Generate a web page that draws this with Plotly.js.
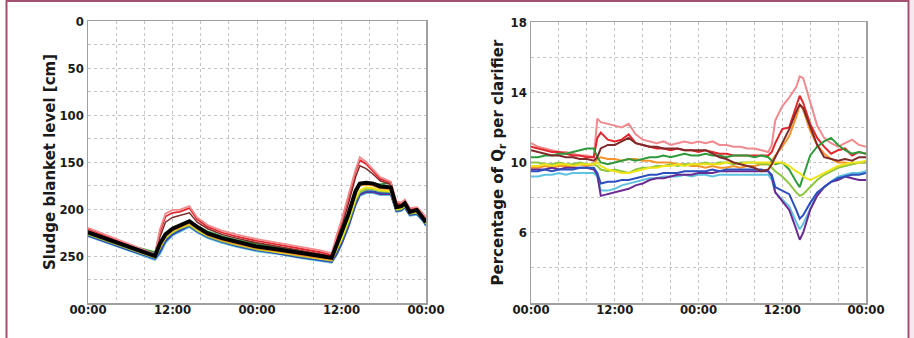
<!DOCTYPE html>
<html>
<head>
<meta charset="utf-8">
<script src="https://cdn.plot.ly/plotly-3.0.1.min.js"></script>
<style>html,body{margin:0;padding:0;background:#fff;}#chart{width:914px;height:338px;}</style>
</head>
<body>
<div id="chart"></div>
<script>
// ---------- Shared x-axis ticks (hours over two days) ----------
const hourTicks = [0, 4, 8, 12, 16, 20, 24, 28, 32, 36, 40, 44, 48];
const hourTickText = ['00:00', '', '', '12:00', '', '', '00:00', '', '', '12:00', '', '', '00:00'];

// ---------- Left chart: sludge blanket level [cm] ----------
const sbTicks = [0, 25, 50, 75, 100, 125, 150, 175, 200, 225, 250, 275, 300];
const sbTickText = ['0', '', '50', '', '100', '', '150', '', '200', '', '250', '', ''];
const sbTime = [0, 3, 6, 9.5, 10.2, 11, 12, 13, 14.4, 15.5, 17, 19, 21, 24, 27, 30, 33, 34.6, 35.3, 36, 37, 38, 38.6, 39.5, 40.5, 41.5, 43, 43.8, 44.5, 45, 45.7, 46.7, 47.6, 48];
const sbPink     = [220, 229, 238, 248, 222, 205, 201, 201, 197, 209, 217, 223, 227, 232, 236, 240, 244, 247, 228, 212, 185, 158, 145, 150, 158, 166, 171, 192, 193, 190, 199, 198, 205, 209];
const sbRed      = [221, 230, 239, 249, 225, 208, 204, 203, 199, 211, 219, 225, 229, 234, 238, 242, 246, 249, 231, 215, 188, 160, 148, 152, 160, 168, 172, 194, 195, 192, 200, 199, 206, 210];
const sbDarkRed  = [223, 231, 240, 249, 230, 214, 209, 207, 204, 214, 221, 227, 231, 236, 240, 244, 248, 250, 234, 219, 194, 166, 154, 157, 163, 170, 174, 196, 196, 193, 201, 200, 207, 211];
const sbGreen    = [224, 232, 239, 246, 236, 226, 220, 217, 213, 218, 224, 229, 233, 237, 241, 245, 249, 251, 240, 228, 208, 183, 174, 173, 173, 174, 172, 195, 197, 194, 202, 201, 209, 213];
const sbOrange   = [226, 234, 242, 251, 240, 229, 223, 220, 215, 221, 228, 233, 237, 242, 245, 249, 252, 254, 241, 227, 204, 180, 175, 174, 175, 178, 179, 199, 198, 195, 204, 202, 210, 214];
const sbYellow   = [226, 234, 242, 251, 241, 230, 224, 220, 216, 222, 228, 233, 237, 242, 246, 249, 253, 254, 243, 232, 212, 189, 180, 177, 178, 180, 181, 200, 199, 196, 204, 203, 210, 215];
const sbLtGreen  = [227, 235, 243, 252, 242, 231, 225, 221, 217, 223, 229, 234, 238, 243, 246, 250, 253, 255, 244, 233, 214, 191, 182, 179, 179, 181, 182, 201, 200, 197, 205, 204, 211, 216];
const sbBlue     = [228, 236, 244, 253, 246, 234, 227, 223, 218, 224, 230, 235, 239, 244, 247, 251, 254, 256, 247, 236, 217, 194, 184, 181, 181, 183, 183, 202, 201, 198, 206, 205, 212, 217];
const sbSky      = [229, 237, 245, 254, 248, 236, 228, 224, 219, 225, 231, 236, 240, 245, 248, 252, 255, 257, 249, 238, 219, 196, 186, 183, 183, 185, 185, 203, 202, 199, 207, 206, 213, 218];
const sbPurple   = [228, 236, 244, 252, 245, 234, 227, 222, 217, 223, 229, 234, 238, 243, 247, 251, 254, 256, 248, 237, 218, 195, 185, 182, 182, 184, 184, 202, 201, 198, 206, 205, 212, 217];
const sbMean     = [225, 233, 241, 250, 237, 227, 221, 218, 213, 219, 226, 231, 235, 240, 243, 247, 250, 252, 238, 226, 205, 181, 173, 172, 173, 176, 177, 198, 197, 194, 203, 201, 209, 214];

// ---------- Right chart: percentage of Qr per clarifier ----------
const qrTicks = [2, 4, 6, 8, 10, 12, 14, 16, 18];
const qrTickText = ['', '', '6', '', '10', '', '14', '', '18'];
const qrTime = [0,1,2,3,4,5,6,7,8,9,9.5,10,11,12,13,14,15,16,17,18,19,20,21,22,23,24,25,26,27,28,29,30,31,32,33,34,34.5,35,36,37,38,38.5,39,40,41,42,43,44,45,46,47,48];
const qrPink    = [11.1,10.9,10.8,10.7,10.6,10.6,10.5,10.4,10.4,10.3,12.5,12.3,12.2,12.1,12.0,12.2,11.6,11.3,11.2,11.1,11.2,11.0,11.1,11.2,11.1,11.2,11.1,11.2,11.0,11.0,10.9,10.9,10.8,10.8,10.7,10.6,11.0,12.4,13.2,13.7,14.3,14.9,14.8,13.5,12.1,11.4,11.1,10.9,11.1,11.3,11.0,10.9];
const qrRed     = [10.9,10.8,10.7,10.6,10.6,10.5,10.4,10.4,10.3,10.3,11.4,11.7,11.3,11.2,11.3,11.6,11.1,11.0,10.9,10.8,10.8,10.7,10.8,10.7,10.7,10.6,10.7,10.6,10.5,10.5,10.4,10.4,10.4,10.4,10.4,10.4,10.6,11.1,11.9,12.0,13.2,13.8,13.4,12.2,11.4,10.9,10.5,10.7,10.8,10.4,10.6,10.5];
const qrDarkRed = [10.7,10.6,10.5,10.4,10.4,10.3,10.3,10.2,10.2,10.1,10.3,10.8,11.0,11.0,11.2,11.4,11.1,11.0,10.9,10.9,10.8,10.8,10.8,10.7,10.7,10.7,10.7,10.5,10.3,10.2,10.0,9.9,9.8,9.7,9.5,9.6,9.9,10.3,11.1,11.9,12.9,13.3,13.1,12.0,11.0,10.3,10.2,10.1,10.2,10.1,10.3,10.3];
const qrGreen   = [10.3,10.3,10.4,10.4,10.5,10.5,10.6,10.7,10.8,10.8,10.3,10.0,9.9,10.0,10.1,10.2,10.1,10.2,10.3,10.3,10.4,10.3,10.4,10.5,10.4,10.4,10.5,10.4,10.4,10.3,10.4,10.4,10.4,10.3,10.4,10.3,10.1,9.9,10.0,9.6,8.9,8.6,9.2,10.4,10.9,11.2,11.4,11.0,10.7,10.5,10.6,10.5];
const qrLtGreen = [10.0,10.0,9.9,9.9,10.0,9.9,9.9,10.0,9.9,9.9,9.8,9.6,9.5,9.6,9.5,9.4,9.6,9.7,9.7,9.8,9.8,9.9,9.8,9.9,9.9,9.9,10.0,9.9,10.0,10.0,9.9,10.0,10.0,10.0,9.9,9.9,9.7,9.5,9.2,8.8,8.3,8.1,8.2,8.6,9.0,9.3,9.5,9.7,9.8,9.9,10.0,10.0];
const qrYellow  = [9.8,9.8,9.9,9.8,9.9,9.9,9.8,9.9,9.9,9.9,10.0,9.8,9.6,9.5,9.4,9.4,9.5,9.6,9.7,9.7,9.8,9.8,9.9,9.8,9.9,9.9,9.9,9.9,9.9,10.0,10.0,9.9,10.0,10.0,10.0,10.0,9.9,10.0,10.0,9.8,9.5,9.4,9.2,9.0,9.2,9.4,9.6,9.8,9.9,10.0,10.0,10.1];
const qrOrange  = [9.7,9.7,9.8,9.7,9.8,9.8,9.8,9.9,9.8,9.9,10.2,10.3,10.2,10.2,10.1,10.2,10.2,10.1,10.1,10.0,10.0,10.0,9.9,9.9,9.8,9.8,9.7,9.8,9.7,9.7,9.8,9.7,9.8,9.8,9.9,9.9,10.1,10.4,10.9,11.5,12.6,13.3,13.0,11.8,11.0,10.5,10.2,10.0,10.0,9.9,10.0,10.0];
const qrBlue    = [9.5,9.5,9.6,9.5,9.6,9.6,9.6,9.7,9.7,9.7,9.4,8.8,8.9,8.9,9.0,9.0,9.1,9.2,9.3,9.3,9.4,9.4,9.4,9.5,9.5,9.5,9.5,9.6,9.5,9.6,9.6,9.6,9.6,9.6,9.6,9.5,9.3,8.6,8.4,8.2,7.3,6.8,7.0,7.7,8.3,8.6,8.9,9.1,9.2,9.3,9.3,9.4];
const qrSky     = [9.2,9.2,9.3,9.3,9.4,9.3,9.4,9.4,9.4,9.4,9.2,8.4,8.4,8.5,8.7,8.8,8.9,9.0,9.1,9.1,9.2,9.2,9.2,9.3,9.2,9.3,9.3,9.2,9.3,9.3,9.3,9.3,9.3,9.3,9.3,9.3,9.0,8.3,7.9,7.5,6.6,6.2,6.5,7.4,8.2,8.6,8.9,9.2,9.3,9.4,9.4,9.5];
const qrPurple  = [9.6,9.6,9.6,9.7,9.6,9.7,9.7,9.7,9.7,9.6,9.3,8.1,8.2,8.3,8.4,8.5,8.7,8.8,9.0,9.1,9.1,9.2,9.3,9.3,9.3,9.4,9.4,9.4,9.5,9.5,9.5,9.5,9.5,9.5,9.5,9.5,9.2,8.3,7.8,7.3,6.2,5.6,6.0,7.3,8.1,8.6,8.9,9.0,9.2,9.1,9.0,9.0];

// ---------- Colours ----------
const C = {
  pink: '#f08a8f', red: '#e3262b', darkred: '#7e2a2a', green: '#2f9a3c', ltgreen: '#8cc63f',
  yellow: '#efe41a', orange: '#f5922a', blue: '#2d4fbd', sky: '#5fc2df', purple: '#6b2a92', black: '#000000'
};

function line(x, y, color, width, xa, ya) {
  return {x: x, y: y, type: 'scatter', mode: 'lines', line: {color: color, width: width},
          xaxis: xa, yaxis: ya, hoverinfo: 'skip', showlegend: false};
}

const traces = [
  line(sbTime, sbSky, C.sky, 2, 'x', 'y'),
  line(sbTime, sbPurple, C.purple, 2, 'x', 'y'),
  line(sbTime, sbBlue, C.blue, 2, 'x', 'y'),
  line(sbTime, sbLtGreen, C.ltgreen, 2, 'x', 'y'),
  line(sbTime, sbYellow, C.yellow, 2, 'x', 'y'),
  line(sbTime, sbOrange, C.orange, 2, 'x', 'y'),
  line(sbTime, sbGreen, C.green, 2, 'x', 'y'),
  line(sbTime, sbDarkRed, C.darkred, 1.5, 'x', 'y'),
  line(sbTime, sbRed, C.red, 1.8, 'x', 'y'),
  line(sbTime, sbPink, C.pink, 1.8, 'x', 'y'),
  line(sbTime, sbMean, C.black, 4, 'x', 'y'),

  line(qrTime, qrPink, C.pink, 2, 'x2', 'y2'),
  line(qrTime, qrRed, C.red, 2, 'x2', 'y2'),
  line(qrTime, qrOrange, C.orange, 2, 'x2', 'y2'),
  line(qrTime, qrGreen, C.green, 2, 'x2', 'y2'),
  line(qrTime, qrLtGreen, C.ltgreen, 2, 'x2', 'y2'),
  line(qrTime, qrYellow, C.yellow, 2, 'x2', 'y2'),
  line(qrTime, qrSky, C.sky, 2, 'x2', 'y2'),
  line(qrTime, qrPurple, C.purple, 2, 'x2', 'y2'),
  line(qrTime, qrBlue, C.blue, 2, 'x2', 'y2'),
  line(qrTime, qrDarkRed, C.darkred, 2, 'x2', 'y2')
];

const W = 914, H = 338;
const tickFont = {family: 'DejaVu Sans Condensed, DejaVu Sans, sans-serif', size: 13, color: '#1a1a1a', weight: 'bold'};
const titleFont = {family: 'DejaVu Sans, sans-serif', size: 15, color: '#1a1a1a', weight: 'bold'};

function xAxis(domain, anchor) {
  return {
    domain: domain, anchor: anchor, range: [0, 48], tickmode: 'array',
    tickvals: hourTicks, ticktext: hourTickText, ticks: '', tickfont: tickFont,
    showgrid: true, gridcolor: '#c4c4c4', griddash: 'dot', gridwidth: 1,
    showline: true, mirror: true, linecolor: '#a0a0a0', linewidth: 1.5,
    zeroline: false, automargin: false, fixedrange: true, ticklabelstandoff: -6
  };
}
function yAxis(domain, anchor, range, vals, text, title, standoff) {
  return {
    domain: domain, anchor: anchor, range: range, tickmode: 'array',
    tickvals: vals, ticktext: text, ticks: '', tickfont: tickFont,
    showgrid: true, gridcolor: '#c4c4c4', griddash: 'dot', gridwidth: 1,
    showline: true, mirror: true, linecolor: '#a0a0a0', linewidth: 1.5,
    zeroline: false, automargin: false, fixedrange: true, ticklabelstandoff: 0,
    title: {text: title, font: titleFont, standoff: standoff}
  };
}

const layout = {
  width: W, height: H,
  margin: {l: 0, r: 0, t: 0, b: 0},
  paper_bgcolor: '#ffffff', plot_bgcolor: '#ffffff',
  showlegend: false,
  xaxis: xAxis([88 / W, 426 / W], 'y'),
  yaxis: yAxis([1 - 303 / H, 1 - 21 / H], 'x', [300, 0], sbTicks, sbTickText, 'Sludge blanket level [cm]', 0),
  xaxis2: xAxis([531 / W, 866 / W], 'y2'),
  yaxis2: yAxis([1 - 303 / H, 1 - 22 / H], 'x2', [2, 18], qrTicks, qrTickText, 'Percentage of Q<sub>r</sub> per clarifier', 3),
  shapes: [
    {type: 'rect', xref: 'paper', yref: 'paper', x0: 909.5 / W, x1: 1.01, y0: -0.05, y1: 1.05,
     fillcolor: '#f6e8ee', line: {width: 0}, layer: 'below'},
    {type: 'rect', xref: 'paper', yref: 'paper', x0: 6.5 / W, x1: 908.5 / W, y0: -0.05, y1: 1 - 1 / H,
     fillcolor: 'rgba(0,0,0,0)', line: {color: '#a2506f', width: 2}}
  ]
};

Plotly.newPlot('chart', traces, layout, {staticPlot: true, displayModeBar: false});
</script>
</body>
</html>
